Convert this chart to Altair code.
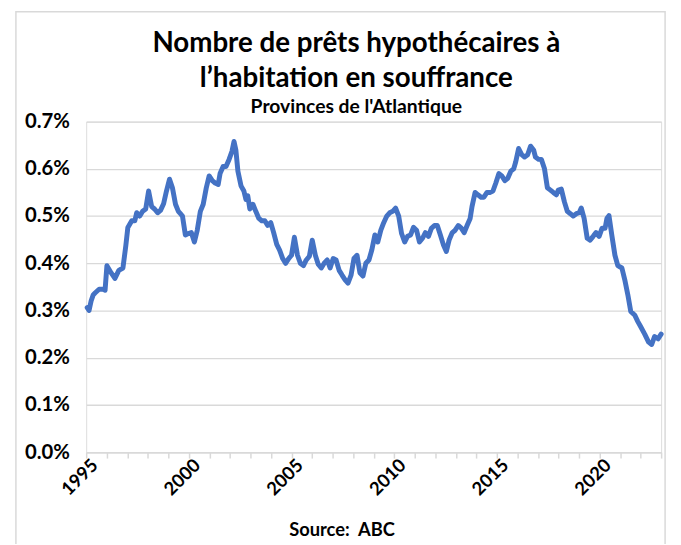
import altair as alt
import pandas as pd

# decimal year of each observation
years = [
    1995.05, 1995.14, 1995.24, 1995.34, 1995.43, 1995.63, 1995.82, 1995.92,
    1996.01, 1996.21, 1996.40, 1996.59, 1996.79, 1996.93,
    1997.03, 1997.22, 1997.37, 1997.46, 1997.61, 1997.75, 1997.90,
    1998.04, 1998.19, 1998.33, 1998.48, 1998.62, 1998.77, 1998.91,
    1999.06, 1999.20, 1999.35, 1999.49, 1999.59, 1999.69, 1999.83, 1999.98,
    2000.12, 2000.27, 2000.41, 2000.56, 2000.70, 2000.85, 2000.99,
    2001.14, 2001.28, 2001.43, 2001.52, 2001.67, 2001.81, 2001.96,
    2002.10, 2002.20, 2002.29, 2002.39, 2002.54, 2002.68, 2002.78, 2002.87, 2002.97,
    2003.12, 2003.26, 2003.41, 2003.55, 2003.70, 2003.84, 2003.99,
    2004.13, 2004.28, 2004.42, 2004.57, 2004.71, 2004.86,
    2005.00, 2005.14, 2005.29, 2005.43, 2005.58, 2005.72, 2005.87,
    2006.01, 2006.16, 2006.30, 2006.45, 2006.59, 2006.74, 2006.88,
    2007.03, 2007.17, 2007.32, 2007.46, 2007.61, 2007.75, 2007.90,
    2008.04, 2008.19, 2008.33, 2008.48, 2008.62, 2008.77, 2008.91,
    2009.06, 2009.20, 2009.35, 2009.49, 2009.64, 2009.78, 2009.93,
    2010.07, 2010.22, 2010.36, 2010.51, 2010.65, 2010.80, 2010.94,
    2011.09, 2011.23, 2011.38, 2011.52, 2011.67, 2011.81, 2011.96,
    2012.10, 2012.25, 2012.39, 2012.54, 2012.68, 2012.83, 2012.97,
    2013.12, 2013.26, 2013.41, 2013.55, 2013.70, 2013.79, 2013.94,
    2014.08, 2014.23, 2014.37, 2014.52, 2014.66, 2014.81, 2014.95,
    2015.10, 2015.24, 2015.39, 2015.53, 2015.68, 2015.82, 2015.92,
    2016.06, 2016.21, 2016.35, 2016.50, 2016.64, 2016.79, 2016.88,
    2017.03, 2017.17, 2017.32, 2017.46, 2017.61, 2017.75, 2017.90, 2017.99,
    2018.14, 2018.29, 2018.43, 2018.58, 2018.72, 2018.87,
    2019.01, 2019.11, 2019.25, 2019.40, 2019.54, 2019.69, 2019.83, 2019.98,
    2020.12, 2020.27, 2020.36, 2020.46, 2020.60, 2020.75, 2020.89,
    2021.09, 2021.23, 2021.38, 2021.52, 2021.72, 2021.86,
    2022.00, 2022.20, 2022.39, 2022.54, 2022.68, 2022.85, 2023.00,
]

# share of mortgages in arrears, in percent
values = [
    0.306, 0.300, 0.320, 0.333, 0.337, 0.345, 0.345, 0.343,
    0.395, 0.380, 0.368, 0.385, 0.390, 0.437,
    0.476, 0.490, 0.490, 0.507, 0.500, 0.510, 0.515,
    0.553, 0.520, 0.515, 0.507, 0.512, 0.526, 0.553,
    0.578, 0.560, 0.525, 0.510, 0.505, 0.500, 0.460, 0.463,
    0.465, 0.445, 0.470, 0.510, 0.525, 0.560, 0.585,
    0.575, 0.570, 0.567, 0.590, 0.605, 0.605, 0.620,
    0.637, 0.658, 0.640, 0.595, 0.564, 0.553, 0.535, 0.543, 0.515,
    0.525, 0.510, 0.495, 0.490, 0.490, 0.480, 0.486,
    0.465, 0.440, 0.428, 0.410, 0.400, 0.410,
    0.417, 0.455, 0.417, 0.400, 0.395, 0.407, 0.415,
    0.449, 0.417, 0.398, 0.390, 0.400, 0.407, 0.390,
    0.410, 0.407, 0.385, 0.375, 0.365, 0.358, 0.375,
    0.410, 0.417, 0.380, 0.373, 0.400, 0.407, 0.428,
    0.460, 0.445, 0.470, 0.486, 0.500, 0.507, 0.510,
    0.517, 0.500, 0.463, 0.445, 0.457, 0.460, 0.476,
    0.470, 0.445, 0.453, 0.465, 0.457, 0.474, 0.480,
    0.480, 0.460, 0.440, 0.425, 0.450, 0.465, 0.470,
    0.480, 0.475, 0.465, 0.480, 0.495, 0.520, 0.550,
    0.545, 0.540, 0.540, 0.550, 0.550, 0.553, 0.570,
    0.590, 0.585, 0.575, 0.580, 0.595, 0.600, 0.615,
    0.643, 0.630, 0.625, 0.630, 0.648, 0.640, 0.625,
    0.620, 0.620, 0.600, 0.560, 0.555, 0.550, 0.545, 0.555,
    0.557, 0.530, 0.510, 0.505, 0.500, 0.505,
    0.507, 0.517, 0.495, 0.453, 0.449, 0.457, 0.465, 0.457,
    0.474, 0.474, 0.495, 0.501, 0.459, 0.417, 0.395,
    0.390, 0.365, 0.333, 0.298, 0.290, 0.277,
    0.266, 0.250, 0.233, 0.228, 0.245, 0.240, 0.250,
]

year_ticks = list(range(1995, 2024))
pct_ticks = [0.0, 0.1, 0.2, 0.3, 0.4, 0.5, 0.6, 0.7]

title_lines = ["Nombre de prêts hypothécaires à", "l’habitation en souffrance"]
subtitle = "Provinces de l'Atlantique"
source = "Source:\u00a0 ABC"

df = pd.DataFrame({"year": years, "value": values})

FONT = "Lato"
GRID = "#d9d9d9"

line = alt.Chart(df).mark_line(
    color="#4472C4", strokeWidth=5, strokeJoin="round", strokeCap="round"
).encode(
    x=alt.X(
        "year:Q",
        scale=alt.Scale(domain=[1995, 2023], nice=False, zero=False),
        axis=alt.Axis(
            values=year_ticks,
            labelExpr="datum.value % 5 == 0 ? datum.value : ''",
            labelAngle=-45,
            labelAlign="center",
            labelBaseline="middle",
            labelPadding=19,
            labelOffset=-7,
            labelFont=FONT,
            labelFontSize=18.5,
            labelFontWeight="bold",
            labelColor="black",
            labelOverlap=False,
            grid=False,
            domainColor=GRID,
            domainWidth=1.5,
            tickColor=GRID,
            tickWidth=1.5,
            tickSize=6,
            title=source,
            titleFont=FONT,
            titleFontSize=18.5,
            titleFontWeight="bold",
            titleColor="black",
            titleX=258,
            titleY=84,
            titleAlign="center",
            titleBaseline="alphabetic",
        ),
    ),
    y=alt.Y(
        "value:Q",
        scale=alt.Scale(domain=[0, 0.7], nice=False),
        axis=alt.Axis(
            values=pct_ticks,
            labelExpr="format(datum.value, '.1f') + '%'",
            labelFont=FONT,
            labelFontSize=20.5,
            labelFontWeight="bold",
            labelColor="black",
            labelPadding=17,
            domain=False,
            ticks=False,
            gridColor=GRID,
            gridWidth=1.5,
            title=None,
        ),
    ),
)

one = alt.Data(values=[{}])

frame = alt.Chart(one).mark_rect(
    filled=False, stroke=GRID, strokeWidth=1.5
).encode(
    x=alt.value(-71), x2=alt.value(585), y=alt.value(-111), y2=alt.value(440)
)

title1 = alt.Chart(one).mark_text(
    text=title_lines[0], font=FONT, fontSize=28, fontWeight="bold",
    color="black", align="center", baseline="alphabetic",
).encode(x=alt.value(273), y=alt.value(-70))

title2 = alt.Chart(one).mark_text(
    text=title_lines[1], font=FONT, fontSize=28, fontWeight="bold",
    color="black", align="center", baseline="alphabetic",
).encode(x=alt.value(273), y=alt.value(-35))

sub = alt.Chart(one).mark_text(
    text=subtitle, font=FONT, fontSize=19.5, fontWeight="bold",
    color="black", align="center", baseline="alphabetic",
).encode(x=alt.value(273), y=alt.value(-9))

chart = alt.layer(frame, line, title1, title2, sub).properties(
    width=581,
    height=334,
    autosize=alt.AutoSizeParams(type="none"),
    padding={"left": 79, "top": 112, "right": 12, "bottom": 90},
).configure_view(stroke=None).configure(background="white")

chart.save("out.html", embed_options={"renderer": "svg", "actions": False})
